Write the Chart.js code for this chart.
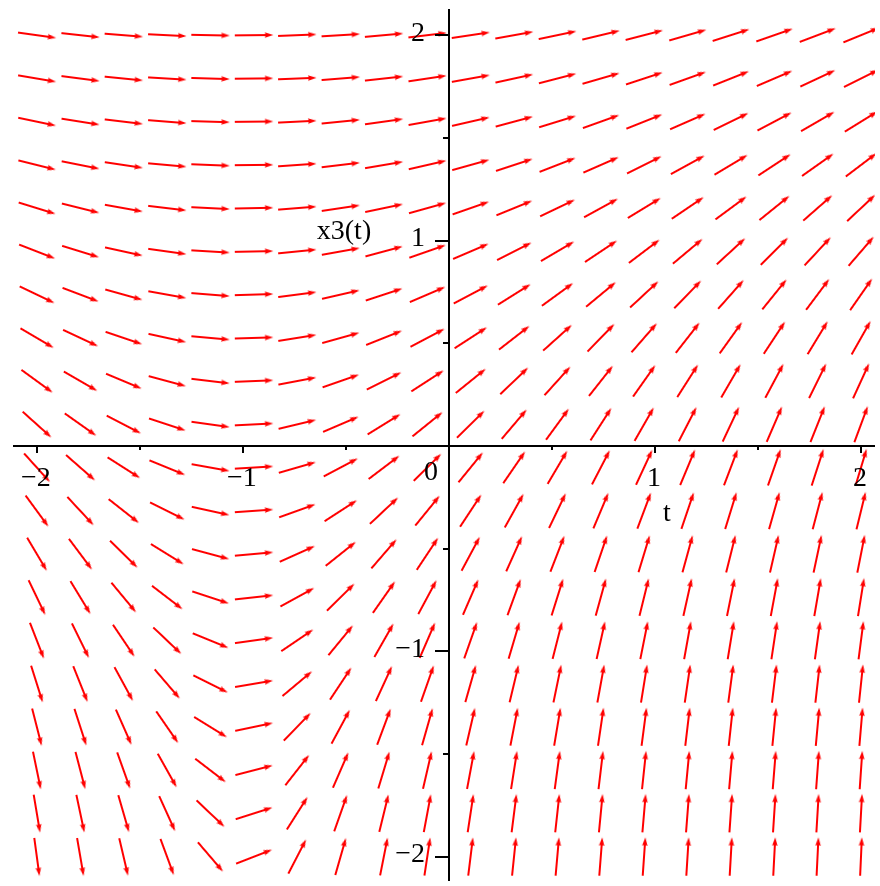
<!DOCTYPE html>
<html>
<head>
<meta charset="utf-8">
<script src="https://cdn.jsdelivr.net/npm/chart.js@4/dist/chart.umd.min.js"></script>
<style>
html,body{margin:0;padding:0;background:#ffffff;}
canvas{display:block;}
</style>
</head>
<body>
<canvas id="c" width="880" height="886"></canvas>
<script>
// Grid of the direction field (t across, x3 up)
const tGrid = [-2.000,-1.789,-1.579,-1.368,-1.158,-0.947,-0.737,-0.526,-0.316,-0.105,
               0.105,0.316,0.526,0.737,0.947,1.158,1.368,1.579,1.789,2.000];
const x3Grid = [-2.000,-1.789,-1.579,-1.368,-1.158,-0.947,-0.737,-0.526,-0.316,-0.105,
                0.105,0.316,0.526,0.737,0.947,1.158,1.368,1.579,1.789,2.000];

// Slope dx3/dt read at each grid point; one row per x3 value (bottom to top)
const slopeRow00 = [-7.39,-5.83,-4.28,-2.72,-1.17,0.39,1.94,3.50,5.06,6.61,8.17,9.72,11.28,12.83,14.39,15.94,17.50,19.06,20.61,22.17];
const slopeRow01 = [-5.99,-4.73,-3.47,-2.21,-0.95,0.32,1.58,2.84,4.10,5.36,6.62,7.88,9.14,10.40,11.66,12.92,14.18,15.44,16.70,17.96];
const slopeRow02 = [-4.85,-3.83,-2.81,-1.79,-0.77,0.26,1.28,2.30,3.32,4.34,5.36,6.38,7.40,8.42,9.45,10.47,11.49,12.51,13.53,14.55];
const slopeRow03 = [-3.93,-3.10,-2.27,-1.45,-0.62,0.21,1.03,1.86,2.69,3.52,4.34,5.17,6.00,6.82,7.65,8.48,9.31,10.13,10.96,11.79];
const slopeRow04 = [-3.18,-2.51,-1.84,-1.17,-0.50,0.17,0.84,1.51,2.18,2.85,3.52,4.19,4.86,5.53,6.20,6.87,7.54,8.21,8.88,9.55];
const slopeRow05 = [-2.58,-2.04,-1.49,-0.95,-0.41,0.14,0.68,1.22,1.76,2.31,2.85,3.39,3.94,4.48,5.02,5.57,6.11,6.65,7.19,7.74];
const slopeRow06 = [-2.09,-1.65,-1.21,-0.77,-0.33,0.11,0.55,0.99,1.43,1.87,2.31,2.75,3.19,3.63,4.07,4.51,4.95,5.39,5.83,6.27];
const slopeRow07 = [-1.69,-1.34,-0.98,-0.62,-0.27,0.09,0.45,0.80,1.16,1.51,1.87,2.23,2.58,2.94,3.30,3.65,4.01,4.37,4.72,5.08];
const slopeRow08 = [-1.37,-1.08,-0.79,-0.50,-0.22,0.07,0.36,0.65,0.94,1.23,1.52,1.80,2.09,2.38,2.67,2.96,3.25,3.54,3.82,4.11];
const slopeRow09 = [-1.11,-0.88,-0.64,-0.41,-0.18,0.06,0.29,0.53,0.76,0.99,1.23,1.46,1.70,1.93,2.16,2.40,2.63,2.87,3.10,3.33];
const slopeRow10 = [-0.90,-0.71,-0.52,-0.33,-0.14,0.05,0.24,0.43,0.62,0.81,0.99,1.18,1.37,1.56,1.75,1.94,2.13,2.32,2.51,2.70];
const slopeRow11 = [-0.73,-0.58,-0.42,-0.27,-0.12,0.04,0.19,0.35,0.50,0.65,0.81,0.96,1.11,1.27,1.42,1.57,1.73,1.88,2.03,2.19];
const slopeRow12 = [-0.59,-0.47,-0.34,-0.22,-0.09,0.03,0.16,0.28,0.40,0.53,0.65,0.78,0.90,1.03,1.15,1.28,1.40,1.52,1.65,1.77];
const slopeRow13 = [-0.48,-0.38,-0.28,-0.18,-0.08,0.03,0.13,0.23,0.33,0.43,0.53,0.63,0.73,0.83,0.93,1.03,1.13,1.24,1.34,1.44];
const slopeRow14 = [-0.39,-0.31,-0.22,-0.14,-0.06,0.02,0.10,0.18,0.27,0.35,0.43,0.51,0.59,0.67,0.76,0.84,0.92,1.00,1.08,1.16];
const slopeRow15 = [-0.31,-0.25,-0.18,-0.12,-0.05,0.02,0.08,0.15,0.21,0.28,0.35,0.41,0.48,0.55,0.61,0.68,0.74,0.81,0.88,0.94];
const slopeRow16 = [-0.25,-0.20,-0.15,-0.09,-0.04,0.01,0.07,0.12,0.17,0.23,0.28,0.33,0.39,0.44,0.50,0.55,0.60,0.66,0.71,0.76];
const slopeRow17 = [-0.21,-0.16,-0.12,-0.08,-0.03,0.01,0.05,0.10,0.14,0.18,0.23,0.27,0.31,0.36,0.40,0.44,0.49,0.53,0.58,0.62];
const slopeRow18 = [-0.17,-0.13,-0.10,-0.06,-0.03,0.01,0.04,0.08,0.11,0.15,0.18,0.22,0.26,0.29,0.33,0.36,0.40,0.43,0.47,0.50];
const slopeRow19 = [-0.14,-0.11,-0.08,-0.05,-0.02,0.01,0.04,0.06,0.09,0.12,0.15,0.18,0.21,0.24,0.26,0.29,0.32,0.35,0.38,0.41];

// Axis ticks and labels
const tMajorTicks = [-2,-1,1,2];
const tMajorLabels = ['\u22122','\u22121','1','2'];
const tMinorTicks = [-1.5,-0.5,0.5,1.5];
const x3MajorTicks = [-2,-1,1,2];
const x3MajorLabels = ['\u22122','\u22121','1','2'];
const x3MinorTicks = [-1.5,-0.5,0.5,1.5];
const originLabel = '0';
const tAxisTitle = 't';
const x3AxisTitle = 'x3(t)';

const slopeRows = [slopeRow00,slopeRow01,slopeRow02,slopeRow03,slopeRow04,slopeRow05,slopeRow06,
  slopeRow07,slopeRow08,slopeRow09,slopeRow10,slopeRow11,slopeRow12,slopeRow13,slopeRow14,
  slopeRow15,slopeRow16,slopeRow17,slopeRow18,slopeRow19];

const points = [];
x3Grid.forEach((xv, j) => {
  tGrid.forEach((tv, i) => {
    points.push({x: tv, y: xv, s: slopeRows[j][i]});
  });
});

// Arrow glyph used as the point style
const arrow = document.createElement('canvas');
arrow.width = 40; arrow.height = 12;
(function(){
  const a = arrow.getContext('2d');
  a.strokeStyle = '#ff0000';
  a.fillStyle = '#ff0000';
  a.lineWidth = 1.8;
  a.beginPath(); a.moveTo(1, 6); a.lineTo(36, 6); a.stroke();
  a.beginPath(); a.moveTo(39.5, 6); a.lineTo(31, 3.2); a.lineTo(32, 6); a.lineTo(31, 8.8); a.closePath(); a.fill();
})();

const axesPlugin = {
  id: 'mapleAxes',
  afterDatasetsDraw(chart) {
    const xs = chart.scales.x, ys = chart.scales.y, c = chart.ctx, area = chart.chartArea;
    const x0 = Math.round(xs.getPixelForValue(0)), y0 = Math.round(ys.getPixelForValue(0));
    c.save();
    c.strokeStyle = '#000'; c.lineWidth = 2;
    c.beginPath();
    c.moveTo(area.left + 8, y0); c.lineTo(area.right, y0);
    c.moveTo(x0, area.top + 4); c.lineTo(x0, area.bottom);
    c.stroke();
    // ticks
    c.beginPath();
    tMajorTicks.forEach(v => { const p = Math.round(xs.getPixelForValue(v)); c.moveTo(p, y0); c.lineTo(p, y0 + 7); });
    tMinorTicks.forEach(v => { const p = Math.round(xs.getPixelForValue(v)); c.moveTo(p, y0); c.lineTo(p, y0 + 4); });
    x3MajorTicks.forEach(v => { const p = Math.round(ys.getPixelForValue(v)); c.moveTo(x0, p); c.lineTo(x0 - 14, p); });
    x3MinorTicks.forEach(v => { const p = Math.round(ys.getPixelForValue(v)); c.moveTo(x0, p); c.lineTo(x0 - 6, p); });
    c.stroke();
    // labels
    c.fillStyle = '#000';
    c.font = '28px "Liberation Serif", "Times New Roman", serif';
    c.textBaseline = 'middle';
    c.textAlign = 'center';
    tMajorTicks.forEach((v, k) => {
      c.fillText(tMajorLabels[k], xs.getPixelForValue(v) - 1, y0 + 33);
    });
    c.fillText(originLabel, x0 - 18, y0 + 27);
    c.textAlign = 'right';
    x3MajorTicks.forEach((v, k) => {
      c.fillText(x3MajorLabels[k], x0 - 24, ys.getPixelForValue(v) - 2);
    });
    c.textAlign = 'center';
    c.fillText(tAxisTitle, xs.getPixelForValue(1) + 12, y0 + 68);
    c.fillText(x3AxisTitle, x0 - 105, ys.getPixelForValue(1) - 9);
    c.restore();
  }
};

const bgPlugin = {
  id: 'bg',
  beforeDraw(chart) {
    const c = chart.ctx;
    c.save(); c.fillStyle = '#ffffff'; c.fillRect(0, 0, chart.width, chart.height); c.restore();
  }
};

new Chart(document.getElementById('c'), {
  type: 'scatter',
  data: {
    datasets: [{
      data: points,
      pointStyle: arrow,
      pointRadius: 3,
      pointBackgroundColor: '#ff0000',
      pointBorderColor: '#ff0000',
      pointRotation: (ctx) => {
        const p = ctx.raw;
        if (!p) return 0;
        const xs = ctx.chart.scales.x, ys = ctx.chart.scales.y;
        const dx = xs.getPixelForValue(p.x + 0.1) - xs.getPixelForValue(p.x);
        const dy = ys.getPixelForValue(p.y + 0.1 * p.s) - ys.getPixelForValue(p.y);
        return Math.atan2(dy, dx) * 180 / Math.PI;
      }
    }]
  },
  options: {
    responsive: false,
    animation: false,
    events: [],
    layout: { padding: 0 },
    plugins: { legend: { display: false }, tooltip: { enabled: false } },
    scales: {
      x: { type: 'linear', min: -2.1545, max: 2.068, display: false },
      y: { type: 'linear', min: -2.118, max: 2.147, display: false }
    }
  },
  plugins: [bgPlugin, axesPlugin]
});
</script>
</body>
</html>
